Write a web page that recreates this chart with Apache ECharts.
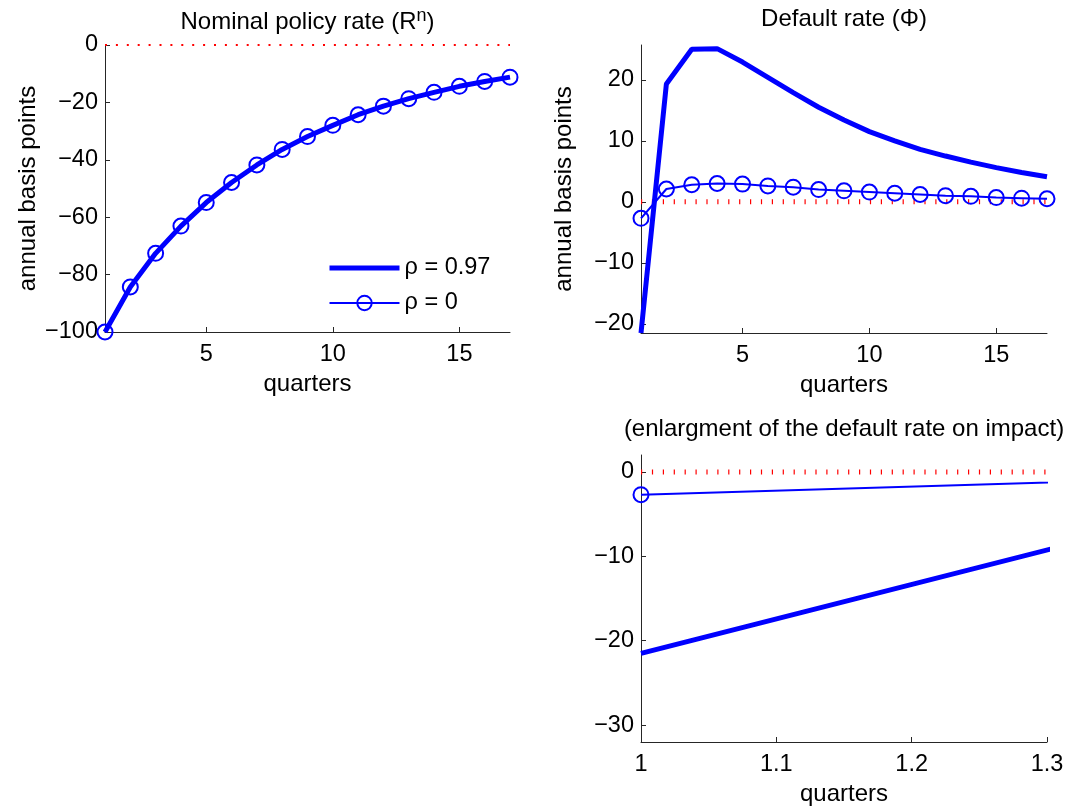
<!DOCTYPE html>
<html><head><meta charset="utf-8">
<script src="https://cdn.jsdelivr.net/npm/echarts@6/dist/echarts.min.js"></script>
<style>html,body{margin:0;padding:0;background:#fff}#c{width:1069px;height:808px}</style>
</head><body><div id="c"></div>
<script>
// ---- data ----
const quarters = [1, 2, 3, 4, 5, 6, 7, 8, 9, 10, 11, 12, 13, 14, 15, 16, 17];
const policyRho097 = [-100, -84.3, -72.6, -63.1, -54.9, -47.9, -41.8, -36.4, -31.9, -28.0, -24.3, -21.3, -18.7, -16.5, -14.4, -12.7, -11.2];
const policyRho0   = [-100, -84.3, -72.6, -63.1, -54.9, -47.9, -41.8, -36.4, -31.9, -28.0, -24.3, -21.3, -18.7, -16.5, -14.4, -12.7, -11.2];
const defaultRho097 = [-21.5, 19.3, 25.0, 25.1, 22.9, 20.4, 17.9, 15.5, 13.4, 11.5, 10.0, 8.6, 7.5, 6.5, 5.6, 4.8, 4.1];
const defaultRho0   = [-2.7, 2.1, 2.8, 3.0, 2.9, 2.6, 2.4, 2.0, 1.8, 1.6, 1.4, 1.2, 1.0, 0.9, 0.7, 0.6, 0.5];
const zeroX = [1, 17];
const zeroY = [0, 0];
const xTicksMain = [5, 10, 15];
const yTicksPolicy = [-100, -80, -60, -40, -20, 0];
const yTicksDefault = [-20, -10, 0, 10, 20];
const xTicksZoom = [1, 1.1, 1.2, 1.3];
const yTicksZoom = [-30, -20, -10, 0];
const seriesNames = ['ρ = 0.97', 'ρ = 0'];

// ---- helpers ----
const FONT = '"Liberation Sans", Arial, Helvetica, sans-serif';
const BLUE = '#0000ff';
const AX = '#262626';
const TICK_FS = 23.5;
const NAME_FS = 24;
const pairs = (xs, ys) => xs.map((x, i) => [x, ys[i]]);
const fmt = v => String(+(+v).toFixed(4)).replace('-', '\u2212');

function axisBase(gridIndex, min, max, ticks) {
  return {
    type: 'value', gridIndex, min, max,
    axisLine: {show: true, onZero: false, lineStyle: {color: AX, width: 1}},
    axisTick: {show: true, inside: true, length: 5, customValues: ticks, lineStyle: {color: AX, width: 1}},
    axisLabel: {customValues: ticks, fontSize: TICK_FS, color: '#000', fontFamily: FONT, formatter: fmt},
    splitLine: {show: false}
  };
}
function xAx(gi, min, max, ticks) {
  const a = axisBase(gi, min, max, ticks);
  a.axisLabel.margin = 11;
  a.name = 'quarters'; a.nameLocation = 'middle'; a.nameGap = 40;
  a.nameTextStyle = {fontSize: NAME_FS, color: '#000', fontFamily: FONT};
  return a;
}
function yAx(gi, min, max, ticks, withName) {
  const a = axisBase(gi, min, max, ticks);
  a.axisLabel.margin = 7;
  if (withName) {
    a.name = 'annual basis points'; a.nameLocation = 'middle'; a.nameGap = 65;
    a.nameTextStyle = {fontSize: NAME_FS, color: '#000', fontFamily: FONT};
  }
  return a;
}
function zeroSeries(gi, width, dash) {
  return {type: 'line', xAxisIndex: gi, yAxisIndex: gi, data: pairs(zeroX, zeroY), symbol: 'none',
    lineStyle: {color: '#ff0000', width: width, type: dash, cap: 'butt'}, silent: true, z: 1};
}
function thickSeries(gi, ys) {
  return {type: 'line', name: seriesNames[0], xAxisIndex: gi, yAxisIndex: gi, data: pairs(quarters, ys),
    symbol: 'none', lineStyle: {color: BLUE, width: 5},
    itemStyle: {color: 'rgba(0,0,0,0)', borderWidth: 0}, z: 2};
}
function thinSeries(gi, ys) {
  return {type: 'line', name: seriesNames[1], xAxisIndex: gi, yAxisIndex: gi, data: pairs(quarters, ys),
    symbol: 'circle', symbolSize: 15, showAllSymbol: true,
    lineStyle: {color: BLUE, width: 2},
    itemStyle: {color: 'rgba(255,255,255,0)', borderColor: BLUE, borderWidth: 2}, z: 3};
}

const chart = echarts.init(document.getElementById('c'), null, {renderer: 'canvas'});
chart.setOption({
  animation: false,
  backgroundColor: '#fff',
  title: [
    {text: 'Nominal policy rate (R{s|n})', left: 307.5, top: 7, textAlign: 'center', padding: 0,
      textStyle: {fontSize: NAME_FS, fontWeight: 'normal', color: '#000', fontFamily: FONT,
        rich: {s: {fontSize: 18, color: '#000', fontFamily: FONT, padding: [0, 0, 13, 0]}}}},
    {text: 'Default rate (Φ)', left: 844, top: 7, textAlign: 'center', padding: 0,
      textStyle: {fontSize: NAME_FS, fontWeight: 'normal', color: '#000', fontFamily: FONT}},
    {text: '(enlargment of the default rate on impact)', left: 844, top: 417, textAlign: 'center', padding: 0,
      textStyle: {fontSize: NAME_FS, fontWeight: 'normal', color: '#000', fontFamily: FONT}}
  ],
  grid: [
    {left: 105, top: 45, width: 405, height: 287},
    {left: 641, top: 45, width: 406, height: 288},
    {left: 641, top: 455, width: 406, height: 287}
  ],
  xAxis: [
    xAx(0, 1, 17, xTicksMain),
    xAx(1, 1, 17, xTicksMain),
    xAx(2, 1, 1.3, xTicksZoom)
  ],
  yAxis: [
    yAx(0, -100, 0, yTicksPolicy, true),
    yAx(1, -21.5, 25.7, yTicksDefault, true),
    yAx(2, -32, 2, yTicksZoom, false)
  ],
  legend: {
    data: [
      {name: seriesNames[0], lineStyle: {width: 5, color: BLUE}},
      {name: seriesNames[1], lineStyle: {width: 2, color: BLUE}}
    ],
    orient: 'vertical', left: 327, top: 256, padding: 0,
    itemWidth: 70, itemHeight: 18, itemGap: 11, selectedMode: false,
    textStyle: {fontSize: TICK_FS, color: '#000', fontFamily: FONT, lineHeight: 22}
  },
  series: [
    zeroSeries(0, 2, [2, 8.9]),
    thickSeries(0, policyRho097),
    thinSeries(0, policyRho0),
    zeroSeries(1, 5, [1.2, 9.7]),
    thickSeries(1, defaultRho097),
    thinSeries(1, defaultRho0),
    zeroSeries(2, 5, [1.2, 9.7]),
    thickSeries(2, defaultRho097),
    thinSeries(2, defaultRho0)
  ]
});
</script>
</body></html>
